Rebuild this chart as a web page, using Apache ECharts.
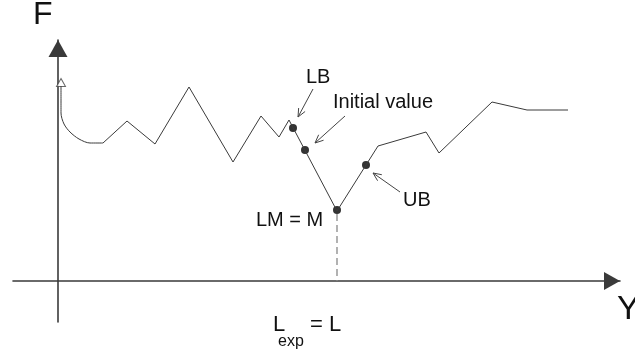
<!DOCTYPE html>
<html lang="en" style="height: 100%">
<head>
  <meta charset="utf-8">
</head>
<body style="height: 100%; margin: 0; background: #fff">
  <div id="container" style="width: 635px; height: 358px"></div>

  <script type="text/javascript" src="https://fastly.jsdelivr.net/npm/echarts@6/dist/echarts.min.js"></script>
  <script type="text/javascript">
// data units: origin where the two axes cross, F upward
var startCurve = [[3, 195], [3, 168], [6, 157], [12, 149], [21, 142], [32, 138], [45, 138]];
var mainLine = [
  [45, 138], [69, 160], [97, 137], [131, 194], [175, 119], [203, 165],
  [221, 144], [231, 161], [279, 70], [308, 116], [320, 135], [368, 149],
  [381, 128], [434, 179], [469, 171], [510, 171]
];
var dots = [[235, 153], [247, 131], [279, 71], [308, 116]];   // LB, initial value, LM, UB
var startArrow = [[3, 198.5]];
var dropLine = [[279, 67], [279, 0]];
// pointer arrows: tail x, tail y, tip x, tip y
var pointers = [
  [255, 192, 240, 164],
  [287, 165, 257, 138],
  [342, 89, 315, 108]
];
var labelText = ['F', 'Y', 'LB', 'Initial value', 'UB', 'LM = M', 'L', 'exp', '= L'];
var labelPos = [[-25, 265.5], [559, -28.5], [248, 204], [275, 178.5], [345, 80.5], [198, 61], [215, -44], [220, -61], [252, -44]];
var labelSize = [32, 34, 20, 20, 20, 20, 22, 16, 22];

var myChart = echarts.init(document.getElementById('container'), null, { renderer: 'canvas' });

function renderPointer(params, api) {
  var a = api.coord([api.value(0), api.value(1)]);
  var b = api.coord([api.value(2), api.value(3)]);
  var ang = Math.atan2(b[1] - a[1], b[0] - a[0]);
  var len = 9, spread = 0.42;
  var p1 = [b[0] - len * Math.cos(ang - spread), b[1] - len * Math.sin(ang - spread)];
  var p2 = [b[0] - len * Math.cos(ang + spread), b[1] - len * Math.sin(ang + spread)];
  return {
    type: 'group',
    children: [
      { type: 'line', shape: { x1: a[0], y1: a[1], x2: b[0], y2: b[1] }, style: { stroke: '#444', lineWidth: 1 } },
      { type: 'polyline', shape: { points: [p1, b, p2] }, style: { stroke: '#444', lineWidth: 1, fill: null } }
    ]
  };
}

function renderLabel(params, api) {
  var i = api.value(2);
  var p = api.coord([api.value(0), api.value(1)]);
  return {
    type: 'text',
    x: p[0],
    y: p[1],
    style: {
      text: labelText[i],
      fontSize: labelSize[i],
      fontFamily: 'Liberation Sans, Arial, sans-serif',
      fill: '#111',
      align: 'left',
      verticalAlign: 'middle'
    }
  };
}

var axisLineX = {
  onZero: true,
  symbol: ['none', 'triangle'],
  symbolSize: [18, 16],
  symbolOffset: [0, -8],
  lineStyle: { color: '#3a3a3a', width: 1.6 }
};
var axisLineY = {
  onZero: true,
  symbol: ['none', 'triangle'],
  symbolSize: [19, 17],
  symbolOffset: [0, -8.5],
  lineStyle: { color: '#3a3a3a', width: 1.6 }
};

var option = {
  animation: false,
  grid: { left: 13, right: 15, top: 40, bottom: 36 },
  xAxis: {
    type: 'value', min: -45, max: 562,
    axisLine: axisLineX, axisTick: { show: false }, axisLabel: { show: false }, splitLine: { show: false }
  },
  yAxis: {
    type: 'value', min: -41, max: 241,
    axisLine: axisLineY, axisTick: { show: false }, axisLabel: { show: false }, splitLine: { show: false }
  },
  series: [
    {
      type: 'line', data: dropLine, symbol: 'none',
      lineStyle: { color: '#888', width: 1.3, type: [7, 4] }
    },
    {
      type: 'line', data: startCurve, symbol: 'none', smooth: 0.3,
      lineStyle: { color: '#3a3a3a', width: 1 }
    },
    {
      type: 'line', data: mainLine, symbol: 'none',
      lineStyle: { color: '#3a3a3a', width: 1 }
    },
    {
      type: 'scatter', data: startArrow, symbol: 'triangle', symbolSize: [9, 8],
      itemStyle: { color: '#fff', borderColor: '#444', borderWidth: 1 }
    },
    {
      type: 'scatter', data: dots, symbol: 'circle', symbolSize: 8,
      itemStyle: { color: '#000' }
    },
    {
      type: 'custom', data: pointers, renderItem: renderPointer,
      encode: { x: [0, 2], y: [1, 3] }
    },
    {
      type: 'custom', renderItem: renderLabel, clip: false,
      data: labelPos.map(function (p, i) { return [p[0], p[1], i]; }),
      encode: { x: 0, y: 1 }
    }
  ]
};

myChart.setOption(option);
window.addEventListener('resize', myChart.resize);
  </script>
</body>
</html>
